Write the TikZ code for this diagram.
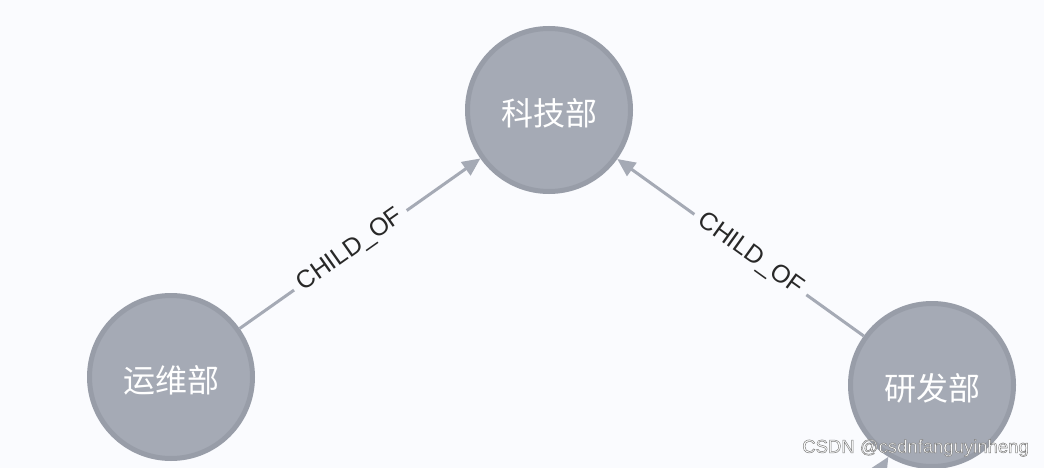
\documentclass[tikz,border=0pt]{standalone}
\usepackage{fontspec}
\setmainfont{Liberation Sans}
\newfontfamily\cjk{Noto Sans CJK SC}
\usetikzlibrary{arrows.meta}
\definecolor{bgc}{RGB}{250,251,254}
\definecolor{nodefill}{RGB}{165,170,181}
\definecolor{nodeborder}{RGB}{152,157,168}
\definecolor{edgec}{RGB}{165,170,181}
\definecolor{lblc}{RGB}{40,40,40}
\newcommand{\deptxt}[1]{\raisebox{-3pt}[\height][\depth]{#1}}
\tikzset{
  dept/.style={circle, fill=nodefill, draw=nodeborder, line width=5pt,
    minimum size=163pt, inner sep=0pt, text=white, font=\cjk\fontsize{32}{32}\selectfont},
  edge/.style={draw=edgec, line width=3pt, -{Triangle[length=18pt,width=16pt]}},
  lbl/.style={sloped, pos=0.46, fill=bgc, inner sep=7pt, text=lblc, font=\fontsize{25}{25}\selectfont},
  wm/.style={text=white, font=\fontsize{18.5}{18.5}\selectfont, inner sep=0pt}
}
\begin{document}
\begin{tikzpicture}[x=1pt,y=-1pt]
\fill[bgc] (0,0) rectangle (1044,468);
\useasboundingbox (0,0) rectangle (1044,468);
\clip (0,0) rectangle (1044,468);
\node[dept] (kjb) at (549,110) {\deptxt{科技部}};
\node[dept] (ywb) at (171,377) {\deptxt{运维部}};
\node[dept] (yfb) at (932,385) {\deptxt{研发部}};
\coordinate (below) at (850,520);
\draw[edge] (ywb) -- node[lbl] {CHILD\_OF} (kjb);
\draw[edge] (yfb) -- node[lbl] {CHILD\_OF} (kjb);
\draw[edge] (below) -- (yfb);
\node[wm, anchor=east] (wmark) at (1029,448) {\special{pdf:literal 2 Tr 0.5 w 0.5 0.5 0.5 RG}CSDN @csdnfanguyinheng\special{pdf:literal 0 Tr}};
\end{tikzpicture}
\end{document}
